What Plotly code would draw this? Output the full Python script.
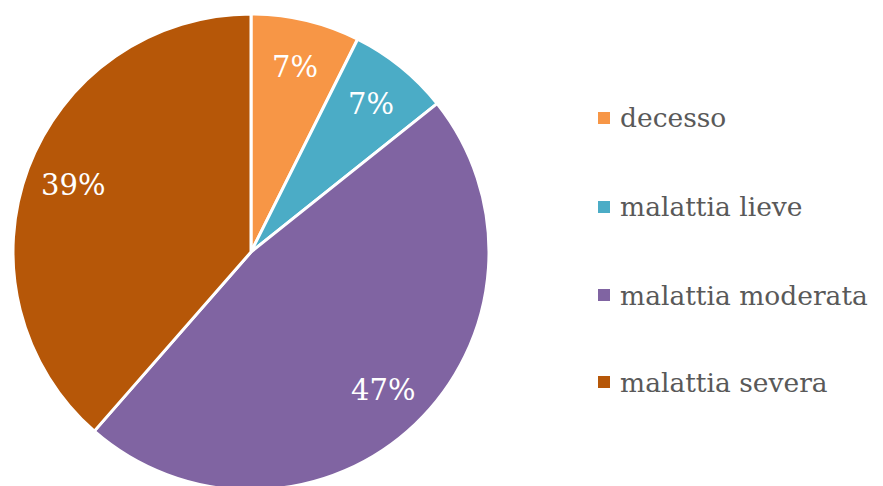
import math

import plotly.graph_objects as go

labels = ["decesso", "malattia lieve", "malattia moderata", "malattia severa"]
values = [7.4, 6.9, 47.2, 38.6]
colors = ["#F79646", "#4BACC6", "#8064A2", "#B65708"]

FONT = "DejaVu Serif"
W, H = 883, 486

# pie box in figure pixels (page body adds an 8px offset)
pie_x = [5, 481]
pie_y = [6, 482]

fig = go.Figure(
    go.Pie(
        labels=labels,
        values=values,
        sort=False,
        direction="clockwise",
        rotation=0,
        marker=dict(colors=colors, line=dict(color="white", width=3)),
        textinfo="none",
        domain=dict(
            x=[pie_x[0] / W, pie_x[1] / W],
            y=[1 - pie_y[1] / H, 1 - pie_y[0] / H],
        ),
        showlegend=False,
        hoverinfo="label+percent",
    )
)

# percentage labels placed along each slice's mid angle, like the original
cx = (pie_x[0] + pie_x[1]) / 2
cy = (pie_y[0] + pie_y[1]) / 2
radius = (pie_x[1] - pie_x[0]) / 2
total = sum(values)
start = 0.0
for value in values:
    mid = (start + value / 2) / total * 2 * math.pi
    start += value
    lx = cx + 0.8 * radius * math.sin(mid)
    ly = cy - 0.8 * radius * math.cos(mid)
    fig.add_annotation(
        x=lx / W, y=1 - ly / H, xref="paper", yref="paper",
        text=f"{round(value / total * 100)}%", showarrow=False,
        xanchor="center", yanchor="middle",
        font=dict(family=FONT, size=29, color="white"),
    )

# hand-made legend so the row spacing matches the original
legend_rows = [110, 199, 287, 374]
for name, colour, row in zip(labels, colors, legend_rows):
    y = 1 - row / H
    fig.add_shape(
        type="rect", xref="paper", yref="paper",
        x0=590 / W, x1=602 / W, y0=y - 6 / H, y1=y + 6 / H,
        fillcolor=colour, line=dict(width=0),
    )
    fig.add_annotation(
        x=610 / W, y=y, xref="paper", yref="paper",
        text=name, showarrow=False, xanchor="left", yanchor="middle",
        font=dict(family=FONT, size=26.5, color="#595959"),
    )

fig.update_layout(
    width=W,
    height=H,
    margin=dict(l=0, r=0, t=0, b=0),
    paper_bgcolor="white",
    plot_bgcolor="white",
)

fig.write_html("out.html")
